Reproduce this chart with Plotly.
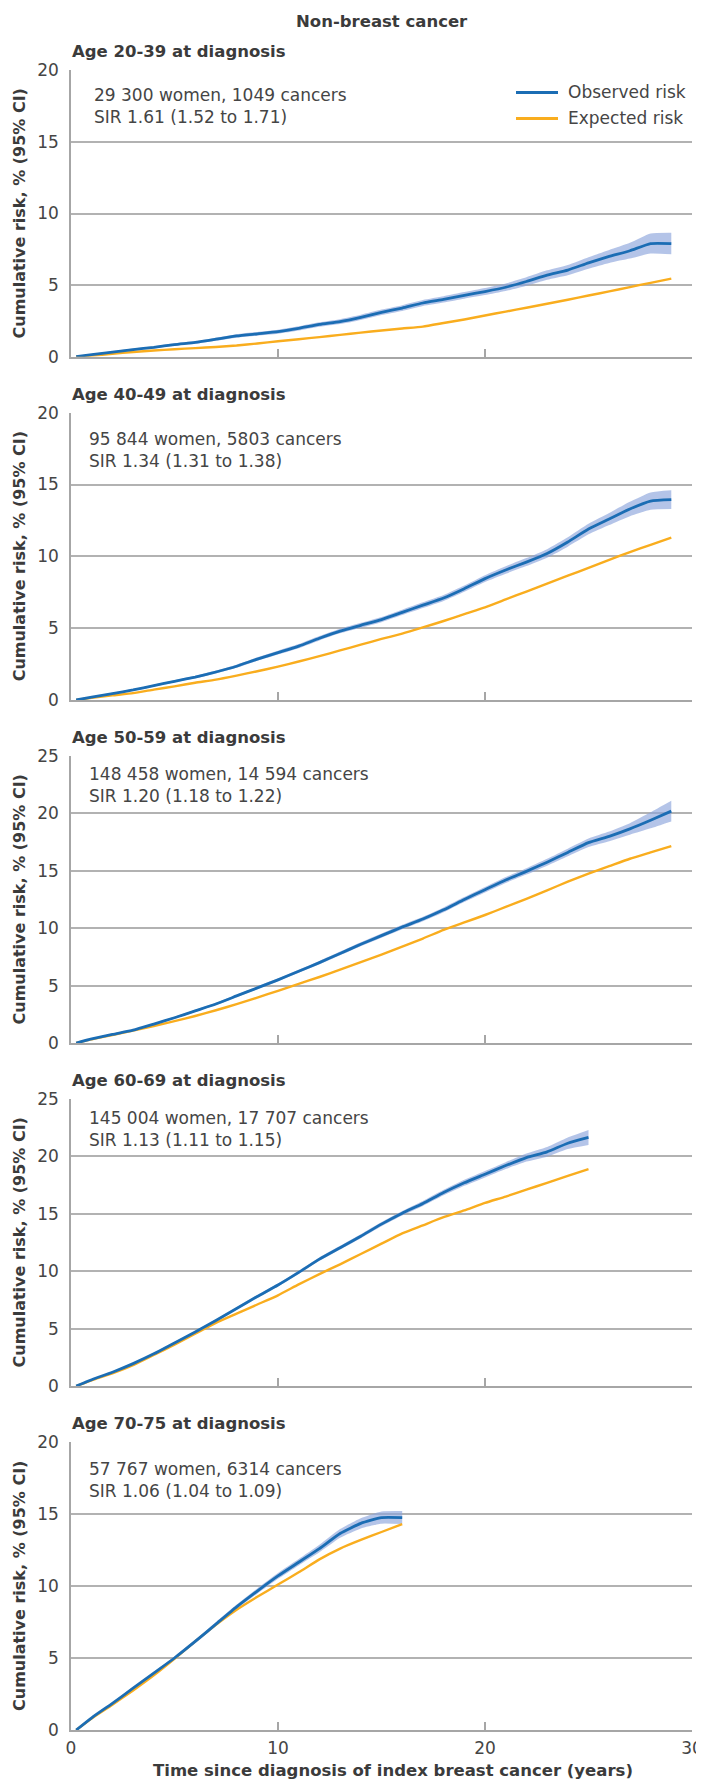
import plotly.graph_objects as go

# ---------------- data ----------------
main_title = "Non-breast cancer"
x_title = "Time since diagnosis of index breast cancer (years)"
y_title = "Cumulative risk, % (95% CI)"
legend_labels = ["Observed risk", "Expected risk"]

panel_titles = ["Age 20-39 at diagnosis", "Age 40-49 at diagnosis", "Age 50-59 at diagnosis",
                "Age 60-69 at diagnosis", "Age 70-75 at diagnosis"]
panel_notes = [["29 300 women, 1049 cancers", "SIR 1.61 (1.52 to 1.71)"],
               ["95 844 women, 5803 cancers", "SIR 1.34 (1.31 to 1.38)"],
               ["148 458 women, 14 594 cancers", "SIR 1.20 (1.18 to 1.22)"],
               ["145 004 women, 17 707 cancers", "SIR 1.13 (1.11 to 1.15)"],
               ["57 767 women, 6314 cancers", "SIR 1.06 (1.04 to 1.09)"]]
y_max = [20, 20, 25, 25, 20]
x_ticks = [0, 10, 20, 30]

years_29 = [0.25, 1, 2, 3, 4, 5, 6, 7, 8, 9, 10, 11, 12, 13, 14, 15, 16, 17, 18, 19,
            20, 21, 22, 23, 24, 25, 26, 27, 28, 29]
years_25 = [0.25, 1, 2, 3, 4, 5, 6, 7, 8, 9, 10, 11, 12, 13, 14, 15, 16, 17, 18, 19,
            20, 21, 22, 23, 24, 25]
years_16 = [0.25, 1, 2, 3, 4, 5, 6, 7, 8, 9, 10, 11, 12, 13, 14, 15, 16]

obs_20_39 = [0, 0.15, 0.32, 0.5, 0.65, 0.85, 1.0, 1.22, 1.45, 1.6, 1.75, 1.98, 2.25, 2.45, 2.75,
             3.1, 3.4, 3.75, 4.0, 4.28, 4.55, 4.85, 5.25, 5.7, 6.05, 6.55, 7.0, 7.4, 7.9, 7.9]
ci_20_39 = [0, 0.04, 0.06, 0.07, 0.08, 0.09, 0.1, 0.11, 0.12, 0.13, 0.14, 0.15, 0.16, 0.17, 0.18,
            0.19, 0.2, 0.21, 0.22, 0.23, 0.25, 0.27, 0.3, 0.33, 0.36, 0.4, 0.45, 0.55, 0.7, 0.75]
exp_20_39 = [0, 0.08, 0.2, 0.33, 0.43, 0.52, 0.6, 0.68, 0.78, 0.92, 1.08, 1.22, 1.37, 1.52, 1.68,
             1.83, 1.97, 2.1, 2.35, 2.6, 2.88, 3.15, 3.42, 3.7, 3.98, 4.27, 4.56, 4.86, 5.16, 5.45]

obs_40_49 = [0, 0.2, 0.45, 0.7, 1.0, 1.3, 1.6, 1.95, 2.35, 2.85, 3.3, 3.75, 4.3, 4.8, 5.2,
             5.6, 6.1, 6.6, 7.1, 7.75, 8.45, 9.05, 9.6, 10.2, 11.0, 11.9, 12.6, 13.3, 13.85, 13.95]
ci_40_49 = [0, 0.04, 0.05, 0.06, 0.07, 0.08, 0.09, 0.1, 0.11, 0.12, 0.13, 0.14, 0.15, 0.16, 0.17,
            0.18, 0.19, 0.2, 0.21, 0.22, 0.24, 0.26, 0.28, 0.3, 0.33, 0.37, 0.42, 0.5, 0.6, 0.65]
exp_40_49 = [0, 0.15, 0.32, 0.48, 0.72, 0.95, 1.2, 1.42, 1.7, 2.0, 2.32, 2.68, 3.05, 3.45, 3.85,
             4.25, 4.62, 5.05, 5.5, 5.98, 6.45, 7.0, 7.55, 8.1, 8.65, 9.2, 9.75, 10.3, 10.8, 11.3]

obs_50_59 = [0, 0.35, 0.75, 1.12, 1.65, 2.2, 2.8, 3.4, 4.1, 4.8, 5.5, 6.25, 7.0, 7.8, 8.6,
             9.35, 10.1, 10.8, 11.6, 12.5, 13.35, 14.2, 14.95, 15.75, 16.6, 17.45, 18.0, 18.65, 19.4, 20.2]
ci_50_59 = [0, 0.04, 0.05, 0.06, 0.07, 0.08, 0.09, 0.1, 0.11, 0.12, 0.13, 0.14, 0.15, 0.16, 0.17,
            0.18, 0.19, 0.2, 0.21, 0.22, 0.24, 0.26, 0.28, 0.3, 0.33, 0.37, 0.42, 0.5, 0.7, 0.9]
exp_50_59 = [0, 0.32, 0.7, 1.08, 1.48, 1.9, 2.35, 2.85, 3.38, 3.95, 4.55, 5.15, 5.75, 6.4, 7.05,
             7.7, 8.4, 9.1, 9.85, 10.5, 11.15, 11.85, 12.55, 13.3, 14.05, 14.75, 15.4, 16.05, 16.6, 17.15]

obs_60_69 = [0, 0.55, 1.2, 1.95, 2.8, 3.75, 4.7, 5.7, 6.75, 7.8, 8.8, 9.9, 11.05, 12.05, 13.05,
             14.1, 15.05, 15.9, 16.85, 17.7, 18.45, 19.2, 19.9, 20.4, 21.15, 21.65]
ci_60_69 = [0, 0.04, 0.05, 0.06, 0.07, 0.08, 0.09, 0.1, 0.11, 0.12, 0.13, 0.14, 0.15, 0.16, 0.17,
            0.18, 0.2, 0.22, 0.24, 0.26, 0.28, 0.3, 0.35, 0.42, 0.5, 0.65]
exp_60_69 = [0, 0.5, 1.1, 1.82, 2.7, 3.6, 4.55, 5.5, 6.3, 7.1, 7.9, 8.85, 9.75, 10.6, 11.5,
             12.4, 13.3, 14.0, 14.7, 15.3, 15.95, 16.5, 17.1, 17.7, 18.3, 18.9]

obs_70_75 = [0, 0.85, 1.85, 2.9, 3.95, 5.0, 6.15, 7.35, 8.55, 9.65, 10.7, 11.65, 12.6, 13.65,
             14.35, 14.75, 14.75]
ci_70_75 = [0, 0.05, 0.07, 0.08, 0.1, 0.11, 0.13, 0.14, 0.16, 0.18, 0.2, 0.22, 0.26, 0.3,
            0.35, 0.42, 0.45]
exp_70_75 = [0, 0.8, 1.75, 2.75, 3.8, 4.95, 6.15, 7.3, 8.35, 9.25, 10.1, 10.95, 11.85, 12.6,
             13.2, 13.75, 14.3]

panel_years = [years_29, years_29, years_29, years_25, years_16]
panel_obs = [obs_20_39, obs_40_49, obs_50_59, obs_60_69, obs_70_75]
panel_ci = [ci_20_39, ci_40_49, ci_50_59, ci_60_69, ci_70_75]
panel_exp = [exp_20_39, exp_40_49, exp_50_59, exp_60_69, exp_70_75]

# ---------------- styling / layout ----------------
# the page body adds an 8 px margin; all pixel positions below are window positions
OFF = 8
W, H = 704 - OFF, 1787 - OFF
L, R, T, B = 71 - OFF, 12, 70 - OFF, 57
PW, PH = W - L - R, H - T - B
panel_px = [(70.3, 356.7), (412.7, 700), (756, 1043), (1099, 1386), (1442, 1730)]
note_pos = [(93, 24), (88, 26), (88, 17), (88, 18), (88, 26)]

BLUE = "#1b6db4"
ORANGE = "#f9ad1e"
BAND = "rgba(140,165,220,0.65)"
GRID = "#b2b2b2"
AXIS = "#a6a6a6"
TXT = "#454545"
BTXT = "#3b3b3b"
FN = "DejaVu Sans"


def px_x(p):
    return (p - OFF - L) / PW


def px_y(p):
    return (H - B - (p - OFF)) / PH


fig = go.Figure()
annotations = []
shapes = []

for i in range(5):
    n = i + 1
    xa = "x" if n == 1 else f"x{n}"
    ya = "y" if n == 1 else f"y{n}"
    xs = panel_years[i]
    obs = panel_obs[i]
    ci = panel_ci[i]
    lo = [o - c for o, c in zip(obs, ci)]
    hi = [o + c for o, c in zip(obs, ci)]
    fig.add_trace(go.Scatter(x=xs, y=hi, xaxis=xa, yaxis=ya, mode="lines",
                             line=dict(width=0, color=BAND, shape="spline", smoothing=0.5),
                             showlegend=False, hoverinfo="skip"))
    fig.add_trace(go.Scatter(x=xs, y=lo, xaxis=xa, yaxis=ya, mode="lines", fill="tonexty",
                             fillcolor=BAND,
                             line=dict(width=0, color=BAND, shape="spline", smoothing=0.5),
                             showlegend=False, hoverinfo="skip"))
    fig.add_trace(go.Scatter(x=xs, y=panel_exp[i], xaxis=xa, yaxis=ya, mode="lines",
                             name=legend_labels[1],
                             line=dict(width=2.4, color=ORANGE, shape="spline", smoothing=0.5),
                             showlegend=False))
    fig.add_trace(go.Scatter(x=xs, y=obs, xaxis=xa, yaxis=ya, mode="lines",
                             name=legend_labels[0],
                             line=dict(width=2.8, color=BLUE, shape="spline", smoothing=0.5),
                             showlegend=False))

    top, bot = panel_px[i]
    last = (i == 4)
    xkey = "xaxis" if n == 1 else f"xaxis{n}"
    ykey = "yaxis" if n == 1 else f"yaxis{n}"
    fig.layout[xkey] = dict(
        domain=[0, 1], anchor=ya, range=[0, 30], showgrid=False, zeroline=False,
        showline=True, linecolor=AXIS, linewidth=1.5,
        tickmode="array", tickvals=x_ticks if last else x_ticks[1:],
        ticks="inside", ticklen=8, tickwidth=1.5, tickcolor=AXIS,
        showticklabels=last, tickfont=dict(family=FN, size=17, color=TXT),
        ticklabelstandoff=2, fixedrange=True)
    fig.layout[ykey] = dict(
        domain=[max(0, px_y(bot)), min(1, px_y(top))], anchor=xa, range=[0, y_max[i]],
        tickmode="linear", tick0=0, dtick=5, showgrid=True, gridcolor=GRID, gridwidth=1.5,
        zeroline=False, showline=True, linecolor=AXIS, linewidth=1.5, ticks="",
        tickfont=dict(family=FN, size=17, color=TXT), ticklabelstandoff=7, fixedrange=True)

    # panel title
    annotations.append(dict(xref="paper", yref="paper", x=px_x(70), y=px_y(top - 18.5),
                            xanchor="left", yanchor="middle", showarrow=False,
                            text=f"<b>{panel_titles[i]}</b>",
                            font=dict(family=FN, size=16.5, color=BTXT)))
    # y axis title
    annotations.append(dict(xref="paper", yref="paper", x=px_x(19), y=px_y((top + bot) / 2),
                            xanchor="center", yanchor="middle", showarrow=False, textangle=-90,
                            text=f"<b>{y_title}</b>",
                            font=dict(family=FN, size=16, color=BTXT)))
    # notes
    nx, noff = note_pos[i]
    annotations.append(dict(xref="paper", yref="paper", x=px_x(nx - 1), y=px_y(top + noff - 11.5),
                            xanchor="left", yanchor="top", align="left", showarrow=False,
                            text="<br>".join(panel_notes[i]),
                            font=dict(family=FN, size=17, color=TXT)))

# legend (panel 1)
leg_rows = [(92.5, BLUE, legend_labels[0]), (118.5, ORANGE, legend_labels[1])]
for yy, col, lab in leg_rows:
    shapes.append(dict(type="line", xref="paper", yref="paper", x0=px_x(516), x1=px_x(558),
                       y0=px_y(yy), y1=px_y(yy), line=dict(color=col, width=2.8)))
    annotations.append(dict(xref="paper", yref="paper", x=px_x(566), y=px_y(yy),
                            xanchor="left", yanchor="middle", showarrow=False, text=lab,
                            font=dict(family=FN, size=17, color=TXT)))

# main title
annotations.append(dict(xref="paper", yref="paper", x=px_x(382), y=px_y(21),
                        xanchor="center", yanchor="middle", showarrow=False,
                        text=f"<b>{main_title}</b>", font=dict(family=FN, size=16.5, color=BTXT)))
# x axis title
annotations.append(dict(xref="paper", yref="paper", x=px_x(393), y=px_y(1770),
                        xanchor="center", yanchor="middle", showarrow=False,
                        text=f"<b>{x_title}</b>", font=dict(family=FN, size=16.5, color=BTXT)))

fig.update_layout(width=W, height=H, margin=dict(l=L, r=R, t=T, b=B, autoexpand=False),
                  paper_bgcolor="white", plot_bgcolor="white", showlegend=False,
                  annotations=annotations, shapes=shapes,
                  font=dict(family=FN, color=TXT))

fig.write_html("out.html", config={"displayModeBar": False})
